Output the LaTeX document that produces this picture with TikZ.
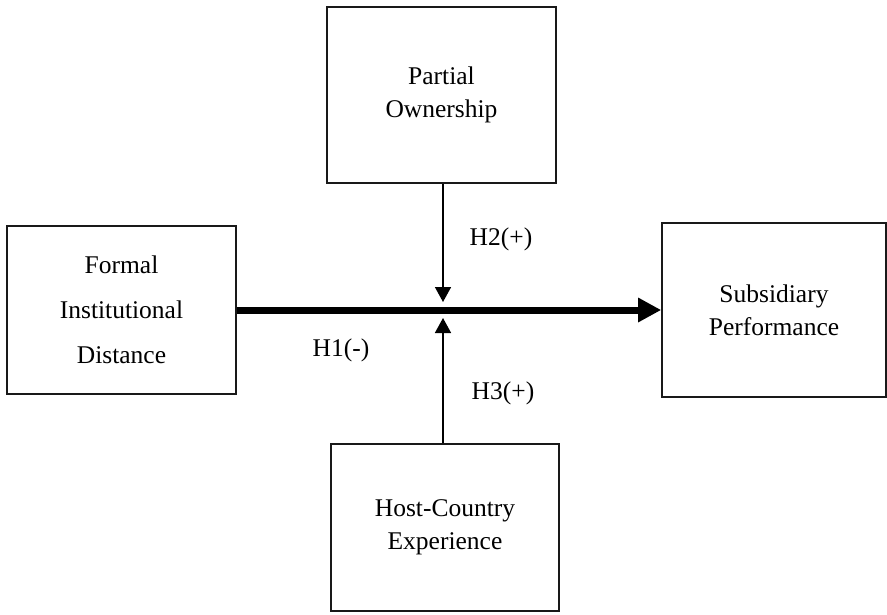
\documentclass[tikz,border=0pt]{standalone}
\usepackage{fontspec}
\setmainfont{Liberation Serif}
\usetikzlibrary{arrows.meta}
\begin{document}
\begin{tikzpicture}[x=1pt,y=-1pt,
  box/.style={draw=black!90, line width=1.6pt, rectangle, inner sep=0pt, align=center,
    font=\fontsize{25.5}{33}\selectfont},
  lbl/.style={inner sep=0pt, font=\fontsize{25.5}{30}\selectfont},
  thin arrow/.style={line width=1.6pt, -{Triangle[length=15pt,width=16pt]}},
  thick arrow/.style={line width=7pt, -{Triangle[length=23pt,width=23pt]}}]
\useasboundingbox (0,0) rectangle (887,614);
\node[box, minimum width=229pt, minimum height=176pt] (po) at (441.5,95) {Partial\\Ownership};
\node[box, minimum width=229pt, minimum height=168pt, font=\fontsize{25.5}{45}\selectfont] (fid) at (121.5,310) {Formal\\Institutional\\Distance};
\node[box, minimum width=224pt, minimum height=174pt] (sp) at (774,310) {Subsidiary\\Performance};
\node[box, minimum width=228pt, minimum height=167pt] (hce) at (445,527.5) {Host-Country\\Experience};
\coordinate (dtip) at (443,302);
\coordinate (utip) at (443,318);
\draw[thick arrow] (fid.east) -- (sp.west);
\draw[thin arrow] (dtip |- po.south) -- (dtip);
\draw[thin arrow] (utip |- hce.north) -- (utip);
\node[lbl] (h2) at (501,239) {H2(+)};
\node[lbl] (h1) at (341,350) {H1(-)};
\node[lbl] (h3) at (503,393) {H3(+)};
\end{tikzpicture}
\end{document}
